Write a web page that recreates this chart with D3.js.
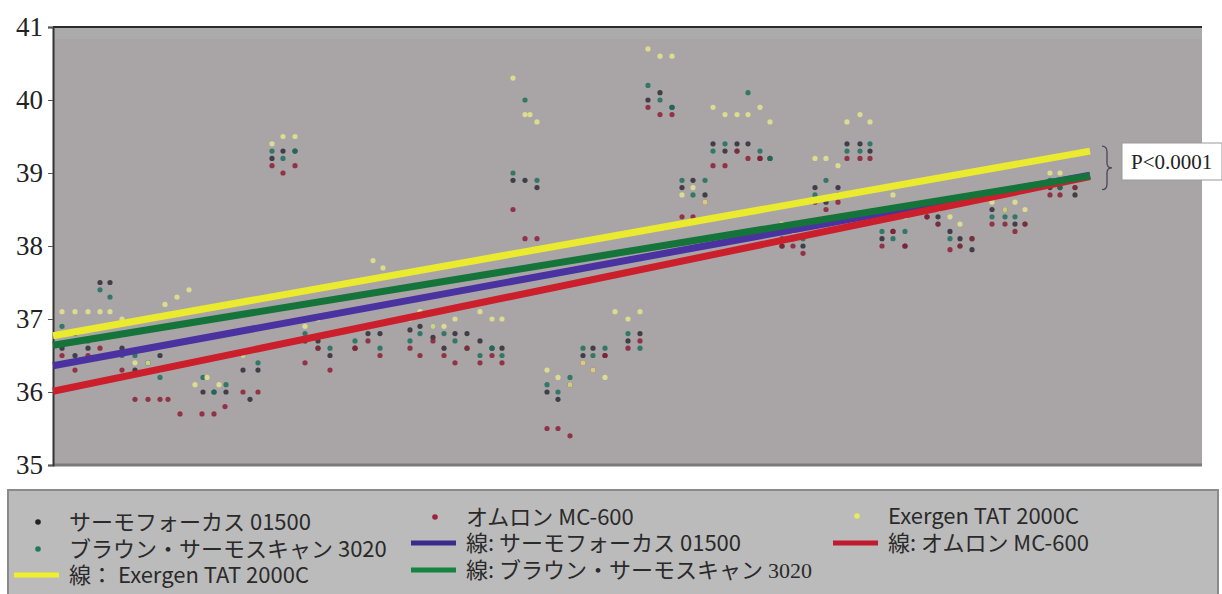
<!DOCTYPE html>
<html>
<head>
<meta charset="utf-8">
<script src="https://cdn.jsdelivr.net/npm/d3@7"></script>
<style>
  body { margin: 0; background: #fff; }
  svg { display: block; }
</style>
</head>
<body>
<div id="chart"></div>
<script>
// y ticks
var yTicks = [35, 36, 37, 38, 39, 40, 41];

// scatter points [order, temp] for each device
var thermoFocus = [[0.9,36.6],[2.2,36.5],[3.5,36.6],[4.7,37.5],[5.7,37.5],[6.9,36.6],[8.2,36.3],[9.5,36.4],[10.7,36.5],
  [15,36.0],[16.1,36.0],[17.3,36.0],[19,36.3],[20.5,36.3],[19.7,35.9],[23,39.3],[24.2,39.3],[21.9,39.2],
  [25.2,36.7],[26.5,36.7],[27.7,36.5],[30.2,36.6],[31.5,36.8],[32.7,36.8],[35.7,36.85],[36.7,36.9],[38,36.75],
  [40.2,36.8],[41.4,36.8],[39.1,36.6],[42.7,36.7],[43.9,36.6],[44.9,36.6],[46,38.9],[47.2,38.9],[48.4,38.8],
  [49.4,36.0],[50.5,35.9],[51.7,36.1],[53,36.5],[54,36.6],[55.2,36.5],[57.5,36.7],[58.7,36.8],
  [59.5,40.0],[60.7,40.1],[61.9,39.9],[62.9,38.8],[64,38.9],[65.2,38.7],[66,39.4],[67.2,39.3],[68.4,39.4],[69.5,39.4],
  [70.7,39.2],[71.7,39.2],[72.9,38.0],[74,38.1],[75,38.0],[76.2,38.8],[77.3,38.6],[78.5,38.8],
  [79.4,39.4],[80.7,39.4],[81.7,39.3],[82.9,38.1],[84,38.2],[85.2,38.0],[87.4,38.4],[88.5,38.4],
  [89.7,38.2],[90.7,38.1],[91.9,37.95],[93.9,38.5],[95.2,38.5],[96.2,38.3],[99.7,38.8],[100.7,38.8],[102.2,38.7]];

var braun = [[0.9,36.9],[2.2,36.8],[3.5,36.7],[4.7,37.4],[5.7,37.3],[6.9,36.5],[8.2,36.5],[9.5,36.4],[10.7,36.2],
  [15,36.2],[16.1,36.0],[17.3,36.1],[19,36.5],[20.5,36.4],[21.9,39.3],[23,39.2],[24.2,39.3],
  [25.2,36.8],[26.5,36.6],[27.7,36.6],[30.2,36.7],[31.5,36.9],[32.7,36.6],[35.7,36.7],[36.7,36.8],[38,36.9],
  [39.1,36.8],[40.2,36.7],[41.4,36.6],[42.7,36.5],[43.9,36.6],[44.9,36.5],[46,39.0],[47.2,40.0],[48.4,38.9],
  [49.4,36.1],[50.5,36.0],[51.7,36.2],[53,36.6],[54,36.5],[55.2,36.6],[57.5,36.8],[58.7,36.6],
  [59.5,40.2],[60.7,40.0],[61.9,39.9],[62.9,38.9],[64,38.7],[65.2,38.9],[66,39.3],[67.2,39.4],[68.4,39.3],[69.5,40.1],
  [70.7,39.3],[71.7,39.2],[72.9,38.1],[74,38.2],[75,38.1],[76.2,38.7],[77.3,38.9],[78.5,38.7],
  [79.4,39.3],[80.7,39.3],[81.7,39.4],[82.9,38.2],[84,38.1],[85.2,38.2],[87.4,38.5],[88.5,38.3],
  [89.7,38.1],[90.7,38.0],[91.9,38.1],[93.9,38.4],[95.2,38.4],[96.2,38.4],[97.2,38.3],[99.7,38.9],[100.7,38.8],[102.2,38.8]];

var omron = [[0.9,36.5],[2.2,36.3],[3.5,36.5],[4.7,36.6],[5.7,36.5],[6.9,36.3],[8.2,35.9],[9.5,35.9],[10.7,35.9],[11.5,35.9],
  [12.7,35.7],[14.9,35.7],[16.1,35.7],[17.2,35.8],[19,36.0],[20.5,36.0],[21.9,39.1],[23,39.0],[24.2,39.1],
  [25.2,36.4],[26.5,36.6],[27.7,36.3],[30.2,36.6],[31.5,36.7],[32.7,36.5],[35.7,36.6],[36.7,36.5],[38,36.7],
  [39.1,36.5],[40.2,36.4],[41.4,36.6],[42.7,36.4],[43.9,36.5],[44.9,36.4],[46,38.5],[47.2,38.1],[48.4,38.1],
  [49.4,35.5],[50.5,35.5],[51.7,35.4],[53,36.4],[54,36.3],[55.2,36.5],[57.5,36.6],[58.7,36.7],
  [59.5,39.9],[60.7,39.8],[61.9,39.8],[62.9,38.4],[64,38.4],[65.2,38.6],[66,39.1],[67.2,39.1],[68.4,39.3],[69.5,39.2],[70.7,39.2],
  [72.9,38.0],[74,38.0],[75,37.9],[76.2,38.6],[77.3,38.5],[78.5,38.6],[79.4,39.2],[80.7,39.2],[81.7,39.2],
  [82.9,38.0],[84,38.2],[85.2,38.0],[87.4,38.4],[88.5,38.3],[89.7,37.95],[90.7,38.0],[91.9,38.1],
  [93.9,38.3],[95.2,38.3],[96.2,38.2],[97.2,38.3],[99.7,38.7],[100.7,38.7],[102.2,38.8]];

var exergen = [[0.9,37.1],[2.2,37.1],[3.5,37.1],[4.7,37.1],[5.7,37.1],[6.9,37.0],[8.2,36.4],[9.5,36.4],[10.7,36.3],
  [11.2,37.2],[12.4,37.3],[13.6,37.4],[14.2,36.1],[15.4,36.2],[16.6,36.1],[19,36.5],[20.5,36.6],
  [21.9,39.4],[23,39.5],[24.2,39.5],[25.2,36.9],[26.5,37.0],[27.7,36.8],[32,37.8],[33,37.7],[34,37.6],
  [35.7,37.0],[36.7,37.1],[38,36.9],[39.1,36.9],[40.2,37.0],[42.7,37.1],[43.9,37.0],[44.9,37.0],
  [46,40.3],[47.2,39.8],[48.4,39.7],[47.7,39.8],[49.4,36.3],[50.5,36.2],[51.7,36.1],[53,36.4],[54,36.3],[55.2,36.2],
  [56.2,37.1],[57.5,37.0],[58.7,37.1],[59.5,40.7],[60.7,40.6],[61.9,40.6],[62.9,38.7],[64,38.8],[65.2,38.6],
  [66,39.9],[67.2,39.8],[68.4,39.8],[69.5,39.8],[70.7,39.9],[71.7,39.7],[72.9,38.3],[74,38.2],
  [76.2,39.2],[77.3,39.2],[78.5,39.1],[79.4,39.7],[80.7,39.8],[81.7,39.7],[82.9,38.5],[84,38.7],[85.2,38.4],
  [87.4,38.6],[88.5,38.5],[89.7,38.4],[90.7,38.3],[93.9,38.6],[95.2,38.5],[96.2,38.6],[97.2,38.5],
  [99.7,39.0],[100.7,39.0],[102.2,38.9]];

// trend lines: [start, end] of order and temperature
var trendX = [0, 103.7];
var trendThermo = [36.36, 38.97];
var trendOmron = [36.01, 38.95];
var trendBraun = [36.64, 38.96];
var trendExergen = [36.77, 39.30];

var width = 1222, height = 594;
var margin = {left: 53, top: 27, right: 1202, bottom: 465};

var svg = d3.select("#chart").append("svg")
  .attr("width", width)
  .attr("height", height);

var x = d3.scaleLinear().domain([0, 114.9]).range([margin.left, margin.right]);
var y = d3.scaleLinear().domain([35, 41]).range([margin.bottom, margin.top]);

// plot background
svg.append("rect")
  .attr("x", margin.left).attr("y", margin.top)
  .attr("width", margin.right - margin.left)
  .attr("height", margin.bottom - margin.top)
  .attr("fill", "#a9a5a7");
svg.append("rect")
  .attr("x", margin.left).attr("y", margin.top)
  .attr("width", margin.right - margin.left)
  .attr("height", 12)
  .attr("fill", "#acabab");

// bottom line
svg.append("line")
  .attr("x1", margin.left).attr("x2", margin.right)
  .attr("y1", margin.bottom).attr("y2", margin.bottom)
  .attr("stroke", "#7b7b7b").attr("stroke-width", 3);
// top line
svg.append("line")
  .attr("x1", margin.left).attr("x2", margin.right)
  .attr("y1", margin.top).attr("y2", margin.top)
  .attr("stroke", "#2b2b2b").attr("stroke-width", 2);

// y axis
var yAxis = d3.axisLeft(y).tickValues(yTicks).tickSize(5).tickPadding(5).tickFormat(d3.format("d"));
var gy = svg.append("g")
  .attr("transform", "translate(" + margin.left + ",0)")
  .call(yAxis);
gy.select(".domain").attr("stroke", "#333").attr("stroke-width", 2);
gy.selectAll(".tick line").attr("stroke", "#555");
gy.selectAll(".tick text")
  .attr("font-family", "'Liberation Serif', 'Times New Roman', serif")
  .attr("font-size", 27)
  .attr("fill", "#222");

// scatter
var devices = [
  {data: thermoFocus, color: "#2e2d36"},
  {data: braun, color: "#1f6f5c"},
  {data: omron, color: "#8c1f35"},
  {data: exergen, color: "#e4e58c"}
];
devices.forEach(function(dev) {
  svg.append("g").selectAll("circle")
    .data(dev.data)
    .enter()
    .append("circle")
    .attr("cx", function(d) { return x(d[0]); })
    .attr("cy", function(d) { return y(d[1]); })
    .attr("r", 2.6)
    .attr("fill", dev.color)
    .attr("opacity", 0.85);
});

// trend lines
var trends = [
  {v: trendThermo, color: "#4a32a0"},
  {v: trendOmron, color: "#cc1f2c"},
  {v: trendBraun, color: "#15743a"},
  {v: trendExergen, color: "#eaea2e"}
];
trends.forEach(function(t) {
  svg.append("line")
    .attr("x1", x(trendX[0])).attr("y1", y(t.v[0]))
    .attr("x2", x(trendX[1])).attr("y2", y(t.v[1]))
    .attr("stroke", t.color)
    .attr("stroke-width", 7);
});

// brace and p-value
var bx = x(trendX[1]) + 12;
var by0 = y(trendExergen[1]) - 5, by1 = y(trendOmron[1]) + 13, bm = (by0 + by1) / 2;
svg.append("path")
  .attr("d", "M" + (bx) + "," + by0 + " q5,0 5,6 L" + (bx + 5) + "," + (bm - 5) +
    " q0,5 5,5 q-5,0 -5,5 L" + (bx + 5) + "," + (by1 - 6) + " q0,6 -5,6")
  .attr("fill", "none")
  .attr("stroke", "#4c4458")
  .attr("stroke-width", 1.3);

svg.append("rect")
  .attr("x", 1122).attr("y", 143)
  .attr("width", 100).attr("height", 37)
  .attr("fill", "#fff")
  .attr("stroke", "#999").attr("stroke-width", 1);
svg.append("text")
  .attr("x", 1131).attr("y", 169)
  .attr("font-family", "'Liberation Serif', 'Times New Roman', serif")
  .attr("font-size", 21)
  .attr("fill", "#222")
  .text("P<0.0001");

// legend
var legend = svg.append("g");
legend.append("rect")
  .attr("x", 8).attr("y", 490)
  .attr("width", 1210).attr("height", 110)
  .attr("fill", "#bbbbbb")
  .attr("stroke", "#8a8a8a").attr("stroke-width", 2);

var legendItems = [
  {label: "サーモフォーカス 01500", type: "dot", color: "#222", x: 38, y: 522},
  {label: "ブラウン・サーモスキャン 3020", type: "dot", color: "#1f7a5c", x: 38, y: 549},
  {label: "線： Exergen TAT 2000C", type: "line", color: "#efef2a", x: 38, y: 575},
  {label: "オムロン MC-600", type: "dot", color: "#a02040", x: 435, y: 517},
  {label: "線: サーモフォーカス 01500", type: "line", color: "#3b2c8c", x: 435, y: 543},
  {label: "線: ブラウン・サーモスキャン ", serif: "3020", type: "line", color: "#15843e", x: 435, y: 570},
  {label: "Exergen TAT 2000C", type: "dot", color: "#e6ec5a", x: 857, y: 516},
  {label: "線: オムロン MC-600", type: "line", color: "#c01a30", x: 857, y: 543}
];
var textOffset = 31;
legendItems.forEach(function(it) {
  if (it.type === "dot") {
    legend.append("circle")
      .attr("cx", it.x).attr("cy", it.y)
      .attr("r", 2.8).attr("fill", it.color);
  } else {
    legend.append("line")
      .attr("x1", it.x - 24).attr("x2", it.x + 21)
      .attr("y1", it.y).attr("y2", it.y)
      .attr("stroke", it.color).attr("stroke-width", 5);
  }
  var t = legend.append("text")
    .attr("x", it.x + textOffset).attr("y", it.y + 8)
    .attr("font-family", "'Noto Sans CJK JP', 'Noto Sans', sans-serif")
    .attr("font-size", 22)
    .attr("fill", "#2a2a2a")
    .text(it.label);
  if (it.serif) {
    t.append("tspan")
      .attr("font-family", "'Liberation Serif', serif")
      .text(it.serif);
  }
});
</script>
</body>
</html>
